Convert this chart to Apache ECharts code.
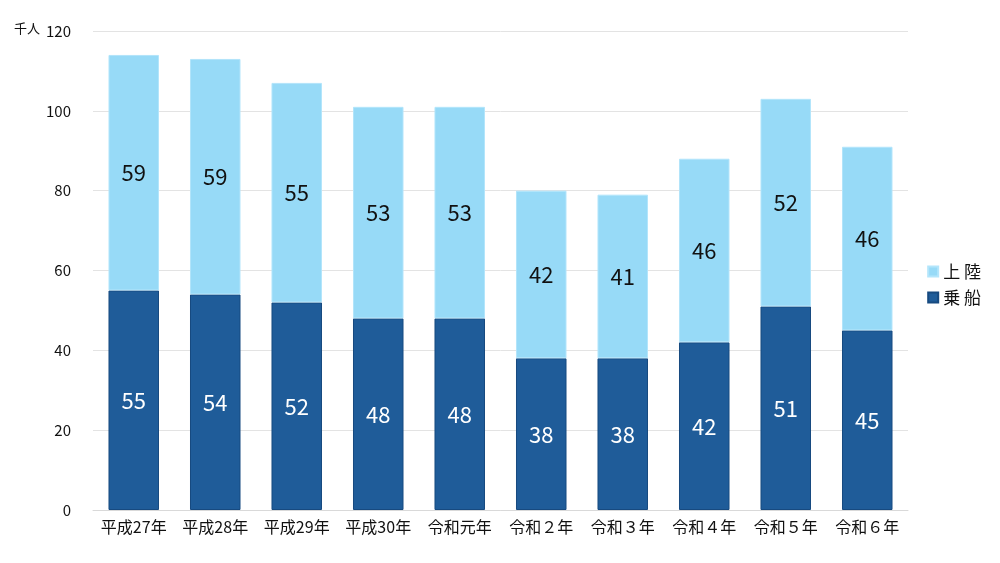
<!DOCTYPE html>
<html><head><meta charset="utf-8">
<script src="https://cdn.jsdelivr.net/npm/echarts@6/dist/echarts.min.js"></script>
<style>html,body{margin:0;padding:0;background:#fff}#c{width:1000px;height:563px}</style>
</head><body><div id="c"></div>
<script>
const categories = ['平成27年','平成28年','平成29年','平成30年','令和元年','令和２年','令和３年','令和４年','令和５年','令和６年'];
const boarding = [55,54,52,48,48,38,38,42,51,45];   // 乗船
const landing = [59,59,55,53,53,42,41,46,52,46];    // 上陸
const seriesNames = ['上 陸','乗 船'];
const yUnit = '千人';
const FONT = '"Noto Sans CJK JP", "Noto Sans", sans-serif';

const chart = echarts.init(document.getElementById('c'));
chart.setOption({
  animation: false,
  textStyle: {fontFamily: FONT},
  grid: {left: 93, right: 92, top: 31, bottom: 53, containLabel: false},
  legend: {
    orient: 'vertical', right: 14, top: 258,
    data: [seriesNames[0], seriesNames[1]],
    itemWidth: 10, itemHeight: 10, itemGap: 9,
    icon: 'rect',
    textStyle: {fontSize: 17, color: '#111', fontFamily: FONT}
  },
  xAxis: {
    type: 'category', data: categories,
    axisLine: {lineStyle: {color: '#d9d9d9', width: 1}},
    axisTick: {show: false},
    axisLabel: {interval: 0, color: '#111', fontSize: 16, margin: 9, fontFamily: FONT}
  },
  yAxis: {
    type: 'value', min: 0, max: 120, interval: 20,
    axisLine: {show: false}, axisTick: {show: false},
    splitLine: {lineStyle: {color: '#e3e3e3', width: 1}},
    axisLabel: {color: '#111', fontSize: 15, margin: 22, fontFamily: FONT}
  },
  graphic: [{
    type: 'text', left: 14, top: 22,
    style: {text: yUnit, fontSize: 13, fill: '#111', fontFamily: FONT}
  }],
  series: [
    {
      name: seriesNames[1], type: 'bar', stack: 'a', data: boarding,
      barWidth: '62%',
      itemStyle: {color: '#1f5c99', borderColor: '#174a80', borderWidth: 1},
      label: {show: true, position: 'inside', color: '#fff', fontSize: 22, fontFamily: FONT}
    },
    {
      name: seriesNames[0], type: 'bar', stack: 'a', data: landing,
      barWidth: '62%',
      itemStyle: {color: '#97daf7', borderColor: '#b3e5fb', borderWidth: 1},
      label: {show: true, position: 'inside', color: '#111', fontSize: 22, fontFamily: FONT}
    }
  ]
});
</script></body></html>
